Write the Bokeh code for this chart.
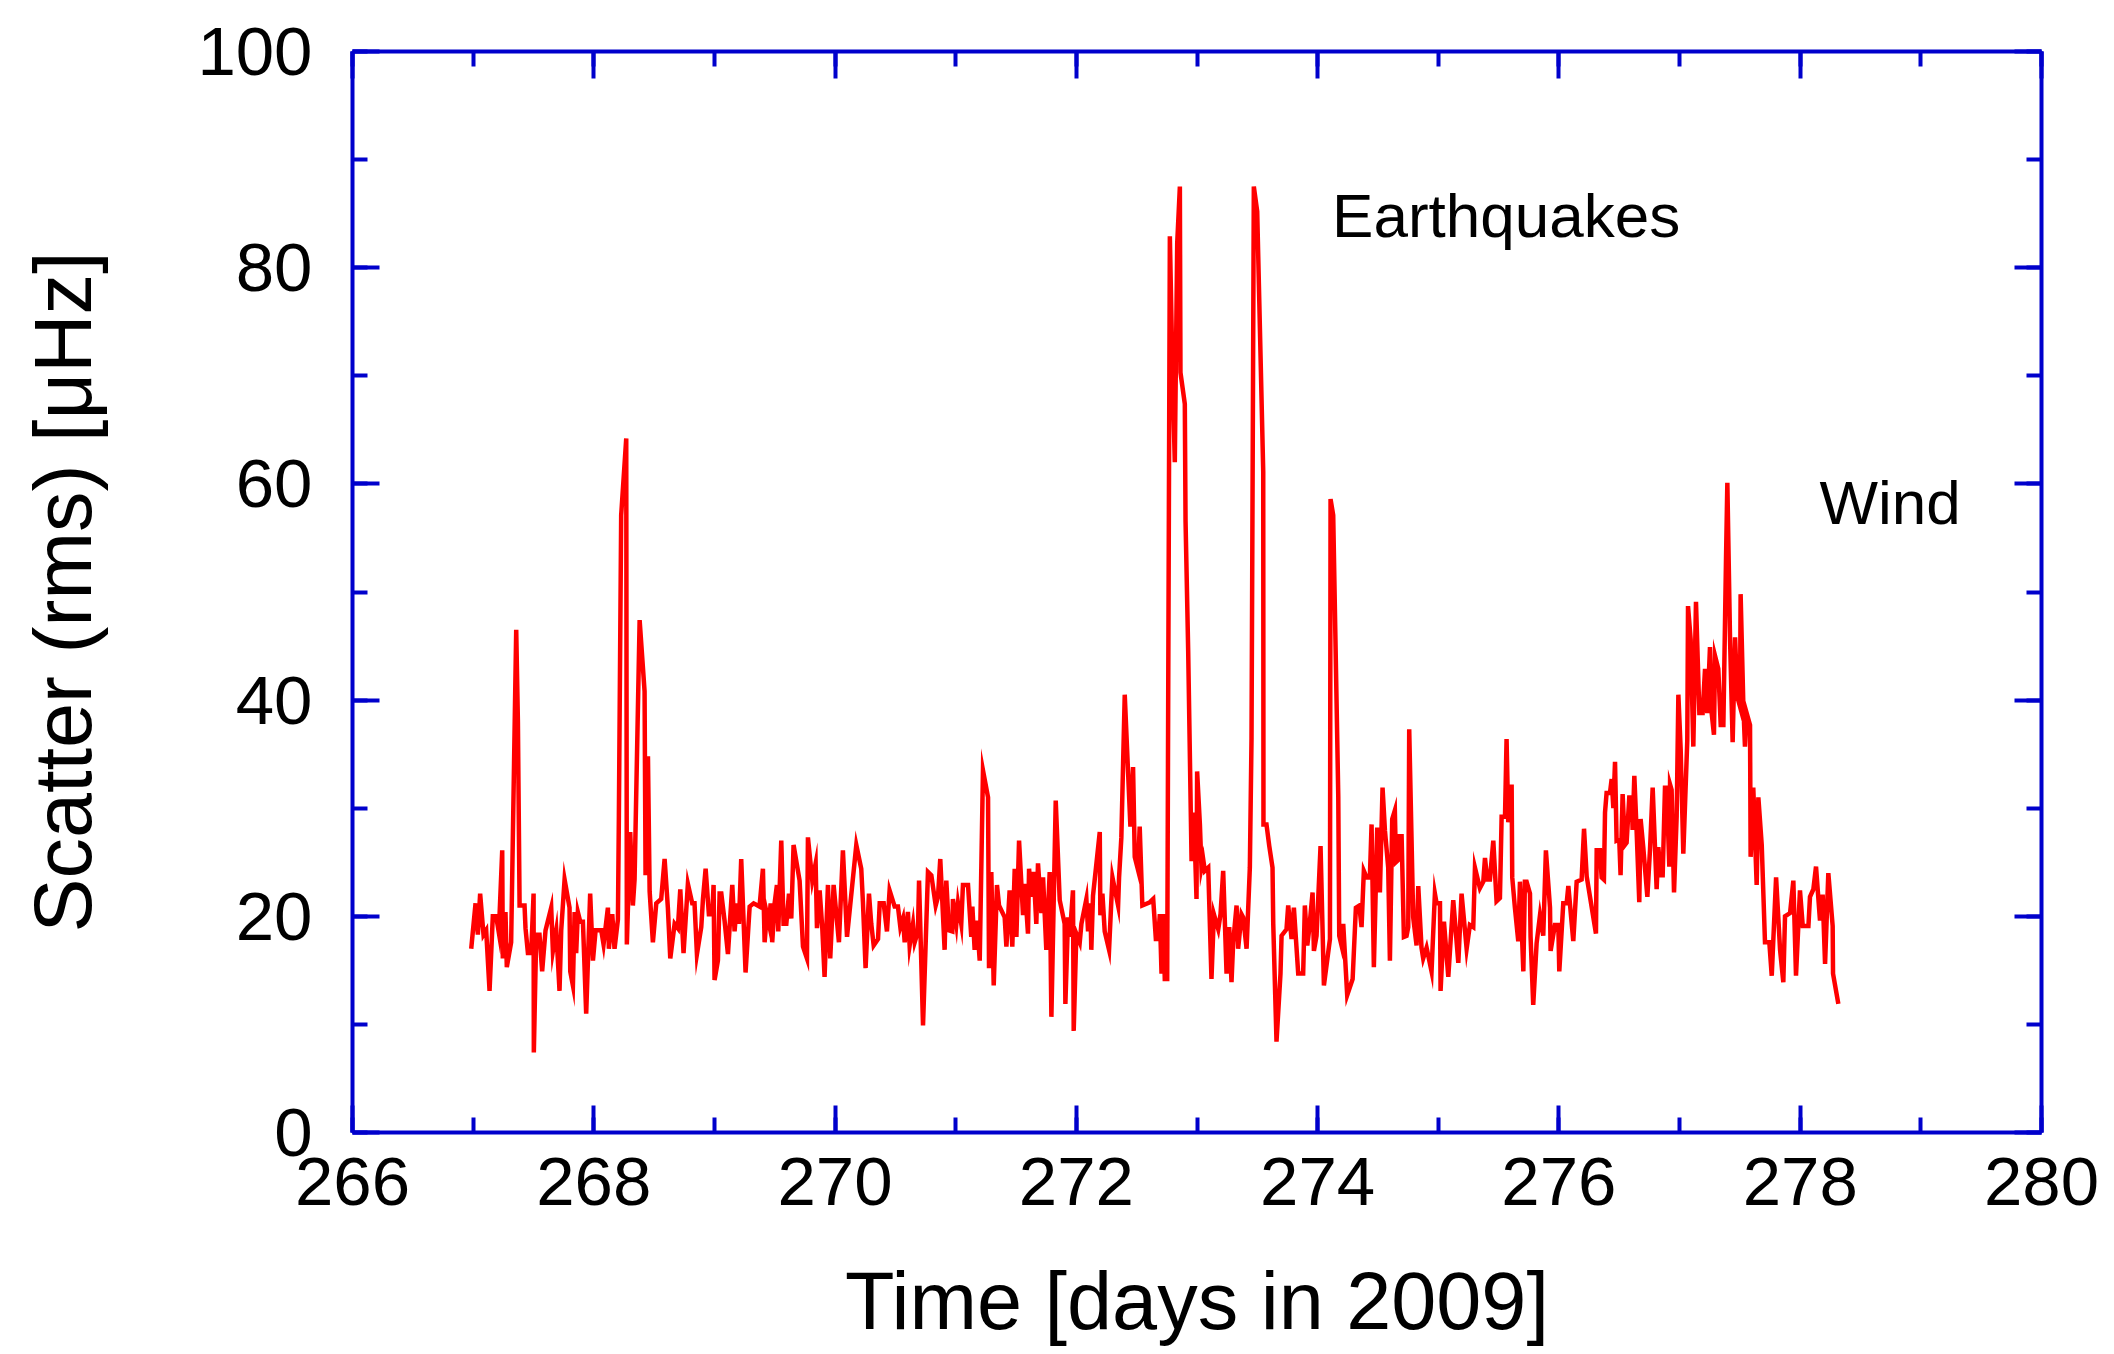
from bokeh.plotting import figure
from bokeh.models import Range1d, LinearAxis, SingleIntervalTicker, Label
from bokeh.embed import file_html
from bokeh.resources import INLINE

# ---- data: scatter (rms) in microHz versus time (days in 2009) ----
days_a = [266.984, 267.020, 267.039, 267.058, 267.086, 267.108, 267.136, 267.163, 267.191, 267.213,
          267.241, 267.246, 267.268, 267.279, 267.315, 267.357, 267.371, 267.385, 267.426, 267.434,
          267.454, 267.481, 267.501, 267.503, 267.523, 267.550, 267.572, 267.600, 267.647, 267.661,
          267.689, 267.716, 267.730, 267.758, 267.799, 267.805, 267.827, 267.841, 267.854, 267.868,
          267.888, 267.910, 267.937, 267.970, 267.993, 268.015, 268.062, 268.081, 268.117, 268.125,
          268.153, 268.172, 268.200, 268.208, 268.227, 268.269, 268.274, 268.302, 268.324, 268.338,
          268.380, 268.421, 268.429, 268.449, 268.463, 268.490, 268.518, 268.559, 268.587, 268.614,
          268.634, 268.670, 268.697, 268.717, 268.744, 268.780]
rms_a = [17.0, 21.2, 18.3, 22.1, 18.3, 18.7, 13.1, 20.0, 20.0, 18.5,
         26.1, 16.1, 20.4, 15.3, 17.6, 46.5, 38.0, 21.0, 21.0, 18.9,
         16.6, 16.6, 22.1, 7.4, 18.3, 18.3, 14.9, 18.7, 20.8, 16.8,
         18.7, 13.1, 18.7, 23.4, 20.8, 14.9, 13.6, 20.4, 16.6, 20.4,
         19.5, 19.5, 11.0, 22.1, 15.9, 18.7, 18.7, 17.4, 20.8, 17.0,
         20.2, 17.0, 19.7, 29.3, 57.1, 64.2, 17.4, 27.8, 21.0, 23.4,
         47.4, 40.8, 23.8, 34.8, 22.3, 17.6, 21.2, 21.6, 25.3, 20.8,
         16.1, 19.3, 18.9, 22.5, 16.6, 23.0]

days_b = [268.816, 268.835, 268.855, 268.891, 268.905, 268.927, 268.954, 268.982, 268.993, 269.001,
          269.029, 269.043, 269.057, 269.084, 269.112, 269.148, 269.167, 269.186, 269.203, 269.222,
          269.258, 269.292, 269.325, 269.374, 269.402, 269.416, 269.435, 269.452, 269.466, 269.479,
          269.499, 269.518, 269.529, 269.554, 269.573, 269.596, 269.618, 269.637, 269.656, 269.706,
          269.734, 269.767, 269.775, 269.811, 269.839, 269.850, 269.872, 269.894, 269.913, 269.941,
          269.960, 269.988, 270.032, 270.065, 270.099, 270.176, 270.217, 270.231, 270.253, 270.281,
          270.300, 270.320, 270.356, 270.370, 270.403, 270.430, 270.452, 270.494, 270.521, 270.541,
          270.563, 270.577, 270.604, 270.618, 270.646, 270.660, 270.687, 270.696, 270.729, 270.770]
rms_b = [21.2, 21.2, 16.5, 19.0, 21.6, 24.4, 20.2, 20.2, 22.9, 14.1,
         15.9, 22.1, 22.1, 19.6, 16.5, 22.9, 18.6, 21.2, 19.3, 25.3,
         14.8, 20.9, 21.2, 20.9, 24.4, 17.6, 20.2, 19.3, 21.2, 17.6,
         21.2, 22.9, 18.6, 27.0, 19.3, 19.3, 22.1, 19.8, 26.6, 23.3,
         17.2, 16.1, 27.3, 23.3, 24.9, 18.9, 22.4, 18.9, 14.4, 22.9,
         16.1, 22.9, 17.6, 26.1, 18.1, 26.6, 24.4, 21.3, 15.2, 22.1,
         19.3, 17.3, 17.9, 21.2, 21.2, 18.6, 22.4, 20.9, 20.9, 19.0,
         19.8, 17.6, 20.4, 17.3, 19.3, 17.6, 18.6, 23.3, 9.9, 24.1]

days_c = [270.798, 270.834, 270.853, 270.872, 270.908, 270.922, 270.944, 270.972, 270.977, 271.005,
          271.019, 271.046, 271.060, 271.102, 271.129, 271.138, 271.157, 271.176, 271.199, 271.226,
          271.268, 271.276, 271.295, 271.315, 271.342, 271.359, 271.406, 271.420, 271.447, 271.469,
          271.489, 271.503, 271.525, 271.558, 271.572, 271.599, 271.608, 271.627, 271.646, 271.668,
          271.682, 271.710, 271.724, 271.751, 271.779, 271.793, 271.829, 271.862, 271.903, 271.909,
          271.931, 271.945, 271.972, 271.978, 272.000, 272.028, 272.042, 272.083, 272.097, 272.116,
          272.124, 272.138, 272.194, 272.199, 272.216, 272.235, 272.271, 272.299, 272.346, 272.354,
          272.373, 272.401, 272.448, 272.470, 272.484, 272.511, 272.525, 272.547]
rms_c = [23.8, 21.0, 21.8, 25.3, 16.9, 23.3, 18.7, 18.6, 21.6, 19.3,
         21.2, 19.3, 22.9, 22.9, 18.1, 20.9, 16.9, 19.6, 15.9, 33.5,
         31.0, 15.2, 24.1, 13.6, 22.9, 21.0, 19.9, 17.2, 22.4, 17.2,
         24.4, 18.1, 27.0, 20.1, 23.0, 18.4, 24.4, 21.8, 24.1, 19.3,
         24.9, 20.3, 23.6, 16.9, 24.1, 10.7, 30.7, 21.5, 19.3, 11.9,
         19.9, 18.1, 22.4, 9.4, 18.4, 17.6, 19.3, 21.6, 18.6, 21.2,
         16.9, 21.9, 27.8, 20.1, 22.1, 18.6, 16.9, 23.6, 21.0, 23.6,
         27.3, 40.5, 28.3, 33.8, 25.5, 24.3, 28.3, 21.0]

days_d = [272.609, 272.637, 272.659, 272.678, 272.692, 272.706, 272.720, 272.733, 272.753, 272.775,
          272.797, 272.816, 272.836, 272.858, 272.863, 272.899, 272.905, 272.927, 272.955, 272.974,
          272.996, 273.001, 273.024, 273.037, 273.051, 273.065, 273.093, 273.120, 273.140, 273.176,
          273.195, 273.217, 273.245, 273.267, 273.286, 273.300, 273.328, 273.341, 273.369, 273.383,
          273.411, 273.438, 273.452, 273.471, 273.499, 273.549, 273.551, 273.576, 273.599, 273.626,
          273.632, 273.659, 273.692, 273.701, 273.742, 273.756, 273.784, 273.803, 273.839, 273.880,
          273.894, 273.914, 273.930, 273.958, 273.969, 273.991, 274.024, 274.052, 274.102, 274.107,
          274.129, 274.171, 274.179, 274.198, 274.212, 274.245, 274.290, 274.317, 274.345, 274.364,
          274.383, 274.406, 274.433, 274.447, 274.466, 274.494, 274.516, 274.538, 274.558, 274.585,
          274.599]
rms_d = [21.3, 21.6, 17.9, 17.9, 20.2, 14.7, 20.2, 14.2, 14.2, 82.9,
         70.3, 62.0, 82.3, 87.5, 70.3, 67.4, 56.6, 44.5, 25.1, 29.6,
         21.6, 33.4, 28.5, 24.5, 25.3, 24.2, 24.5, 14.2, 20.2, 18.8,
         20.2, 24.2, 14.7, 19.0, 13.9, 17.6, 21.0, 17.0, 20.2, 19.9,
         17.0, 24.5, 36.5, 87.5, 85.2, 61.1, 28.5, 28.5, 26.5, 24.5,
         19.3, 8.4, 14.7, 18.2, 18.8, 21.0, 17.9, 20.8, 14.7, 14.7,
         21.0, 17.3, 18.8, 22.2, 16.8, 18.2, 26.5, 13.6, 17.9, 58.6,
         57.1, 31.1, 18.2, 17.3, 19.3, 12.7, 14.2, 20.8, 21.0, 19.0,
         24.2, 23.6, 23.6, 28.5, 15.3, 28.2, 22.2, 31.9, 27.9, 24.5,
         15.9]

days_e = [274.618, 274.640, 274.649, 274.668, 274.676, 274.696, 274.715, 274.737, 274.751, 274.759,
          274.792, 274.820, 274.834, 274.861, 274.875, 274.903, 274.944, 274.972, 274.986, 275.014,
          275.019, 275.047, 275.083, 275.124, 275.166, 275.193, 275.235, 275.262, 275.290, 275.304,
          275.345, 275.373, 275.387, 275.406, 275.428, 275.456, 275.483, 275.511, 275.525, 275.553,
          275.566, 275.580, 275.608, 275.613, 275.635, 275.663, 275.677, 275.705, 275.718, 275.732,
          275.760, 275.765, 275.787, 275.815, 275.843, 275.870, 275.892, 275.926, 275.931, 275.967,
          275.995, 276.003, 276.036, 276.064, 276.078, 276.119, 276.147, 276.188, 276.208, 276.230,
          276.307, 276.313, 276.340, 276.354, 276.373, 276.382, 276.395, 276.423, 276.437, 276.451,
          276.465, 276.478]
rms_e = [29.0, 29.8, 25.0, 25.2, 27.4, 27.4, 18.1, 18.2, 19.0, 37.3,
         19.9, 17.3, 22.8, 17.1, 16.1, 17.1, 14.9, 22.1, 21.2, 21.2,
         13.1, 19.5, 14.4, 21.5, 15.7, 22.1, 17.0, 19.2, 19.0, 24.5,
         22.6, 23.2, 25.4, 23.4, 23.4, 27.0, 21.4, 21.7, 29.2, 29.2,
         36.4, 28.7, 32.2, 23.6, 20.8, 17.7, 23.2, 14.9, 23.2, 23.2,
         22.1, 18.1, 11.8, 17.5, 20.1, 18.2, 26.1, 20.8, 16.8, 19.2,
         19.2, 14.9, 21.2, 21.2, 22.8, 17.7, 23.2, 23.4, 28.1, 23.7,
         18.4, 26.1, 26.1, 23.6, 23.4, 29.6, 31.4, 31.4, 32.7, 30.0,
         34.3, 27.0]

days_f = [276.500, 276.511, 276.528, 276.547, 276.561, 276.583, 276.603, 276.611, 276.625, 276.644,
          276.666, 276.677, 276.699, 276.733, 276.755, 276.777, 276.810, 276.824, 276.843, 276.860,
          276.879, 276.893, 276.915, 276.921, 276.934, 276.954, 276.976, 276.990, 277.009, 277.031,
          277.064, 277.070, 277.092, 277.114, 277.136, 277.164, 277.191, 277.211, 277.230, 277.252,
          277.266, 277.285, 277.294, 277.321, 277.341, 277.363, 277.385, 277.396, 277.418, 277.440,
          277.460, 277.479, 277.501, 277.506, 277.529, 277.542, 277.556, 277.584, 277.589, 277.611,
          277.639, 277.653, 277.681, 277.708, 277.744, 277.764, 277.800, 277.833, 277.860, 277.874,
          277.916, 277.943, 277.965, 277.998, 278.021, 278.068, 278.081, 278.109, 278.131, 278.164,
          278.186, 278.206, 278.233, 278.269, 278.272, 278.316]
rms_f = [27.1, 23.8, 31.3, 26.6, 26.8, 31.0, 31.0, 28.0, 33.0, 27.9,
         21.3, 29.0, 26.4, 21.8, 26.2, 31.9, 22.5, 26.4, 23.8, 23.8,
         31.9, 31.9, 24.6, 32.2, 31.7, 22.2, 29.3, 40.5, 35.5, 25.8,
         36.3, 48.7, 45.6, 35.7, 49.1, 38.8, 38.8, 42.9, 38.8, 44.9,
         38.8, 36.8, 44.1, 42.9, 37.7, 37.7, 53.1, 60.1, 45.8, 36.1,
         45.8, 40.3, 39.4, 49.8, 39.4, 35.7, 38.8, 37.7, 25.5, 31.9,
         22.9, 31.0, 26.6, 17.6, 17.6, 14.5, 23.6, 16.9, 13.9, 20.0,
         20.3, 23.3, 14.5, 22.4, 19.1, 19.1, 21.8, 22.5, 24.6, 19.6,
         22.0, 15.6, 24.0, 19.1, 14.7, 11.9]

annotations = ["Earthquakes", "Wind"]
annot_x = [274.12, 278.16]
annot_y = [84.8, 58.3]

x_limits = (266, 280)
y_limits = (0, 100)

# ---- assemble ----
days, rms = [], []
for d, r in [(days_a, rms_a), (days_b, rms_b), (days_c, rms_c),
             (days_d, rms_d), (days_e, rms_e), (days_f, rms_f)]:
    n = min(len(d), len(r))
    days += d[:n]
    rms += r[:n]

FONT = "Liberation Sans"
BLUE = "#0000cc"

p = figure(frame_width=1689, frame_height=1081,
           x_range=Range1d(*x_limits), y_range=Range1d(*y_limits),
           output_backend="svg", toolbar_location=None,
           min_border_left=352, min_border_right=70,
           min_border_top=51, min_border_bottom=200,
           background_fill_color="white", border_fill_color="white")
p.xgrid.visible = False
p.ygrid.visible = False
p.outline_line_color = None

def style_axis(ax, show_labels):
    ax.axis_line_color = BLUE
    ax.axis_line_width = 4
    ax.major_tick_line_color = BLUE
    ax.major_tick_line_width = 4
    ax.minor_tick_line_color = BLUE
    ax.minor_tick_line_width = 4
    ax.major_tick_in = 27
    ax.major_tick_out = 0
    ax.minor_tick_in = 15
    ax.minor_tick_out = 0
    if show_labels:
        ax.major_label_text_font = FONT
        ax.major_label_text_font_size = "69px"
        ax.major_label_text_color = "black"
        ax.axis_label_text_font = FONT
        ax.axis_label_text_font_style = "normal"
        ax.axis_label_text_color = "black"
    else:
        ax.major_label_text_font_size = "0px"
        ax.major_label_text_color = None
        ax.major_label_standoff = 0

xb = p.xaxis[0]
xb.ticker = SingleIntervalTicker(interval=2, num_minor_ticks=2)
xb.axis_label = "Time [days in 2009]"
style_axis(xb, True)
xb.axis_label_text_font_size = "81px"
xb.major_label_standoff = 25
xb.axis_label_standoff = 48

yl = p.yaxis[0]
yl.ticker = SingleIntervalTicker(interval=20, num_minor_ticks=2)
yl.axis_label = "Scatter (rms) [μHz]"
style_axis(yl, True)
yl.axis_label_text_font_size = "81px"
yl.major_label_standoff = 40
yl.axis_label_standoff = 86
yl.major_label_orientation = "horizontal"

xt = LinearAxis(ticker=SingleIntervalTicker(interval=2, num_minor_ticks=2))
style_axis(xt, False)
p.add_layout(xt, "above")
yr = LinearAxis(ticker=SingleIntervalTicker(interval=20, num_minor_ticks=2))
style_axis(yr, False)
p.add_layout(yr, "right")

p.line(days, rms, line_color="#ff0000", line_width=4.5, line_join="miter")

for t, x, y in zip(annotations, annot_x, annot_y):
    p.add_layout(Label(x=x, y=y, text=t, text_font=FONT, text_font_size="62px",
                       text_color="black", text_baseline="alphabetic", text_align="left"))

open("out.html", "w").write(file_html(p, INLINE))
